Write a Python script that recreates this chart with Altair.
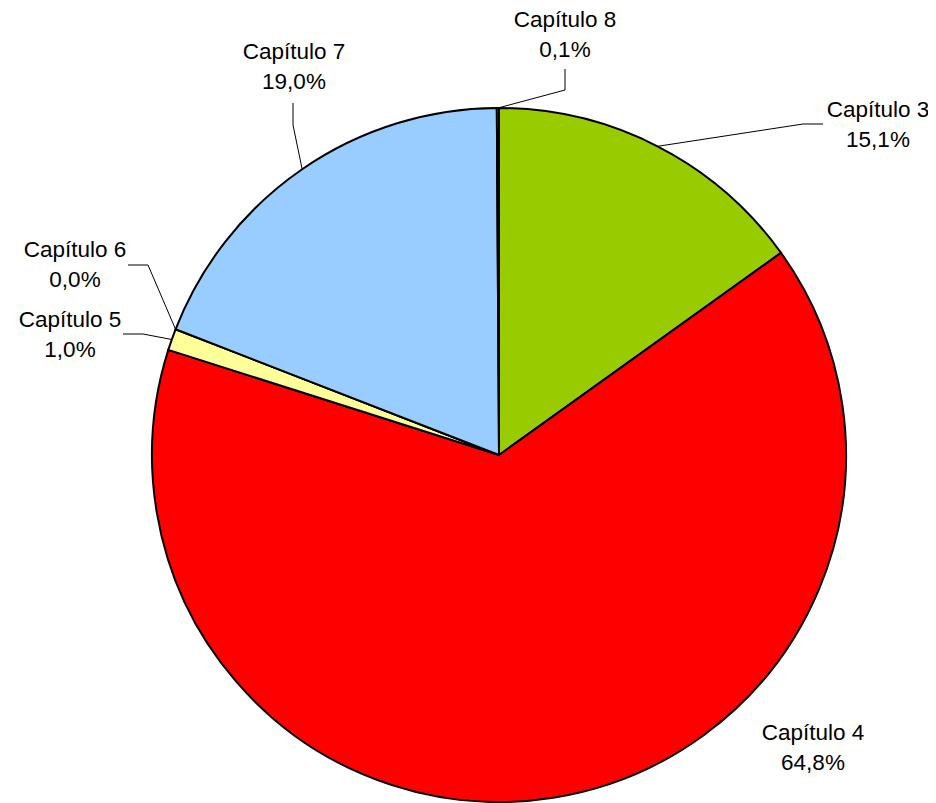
import altair as alt
import pandas as pd
import numpy as np

# ---- data ----
categories = ["Capítulo 3", "Capítulo 4", "Capítulo 5", "Capítulo 6", "Capítulo 7", "Capítulo 8"]
values = [15.1, 64.8, 1.0, 0.0, 19.0, 0.1]
pct_labels = ["15,1%", "64,8%", "1,0%", "0,0%", "19,0%", "0,1%"]
colors = ["#99CC00", "#FF0000", "#FFFF99", "#99CCFF", "#99CCFF", "#99CCFF"]

# ---- layout ----
W, H = 920, 795
CX, CY, R = 491, 447, 347
FONT = "Liberation Sans"
FS = 22.5

# label centres (first line), in chart px
label_pos = {
    "Capítulo 3": (870, 102),
    "Capítulo 4": (805, 725),
    "Capítulo 5": (62, 312),
    "Capítulo 6": (67, 242),
    "Capítulo 7": (286, 44),
    "Capítulo 8": (557, 12),
}
LINE_GAP = 30
# leader elbows (list of points after the arc point)
elbows = {
    "Capítulo 3": [(795, 116), (815, 116)],
    "Capítulo 5": [(135, 326), (115, 326)],
    "Capítulo 6": [(140, 257), (120, 257)],
    "Capítulo 7": [(285, 117), (285, 95)],
    "Capítulo 8": [(557, 82), (557, 61)],
}

pie_df = pd.DataFrame({"cat": categories, "value": values, "order": list(range(len(categories)))})

# leader lines: start at the slice midpoint on the edge
cum = np.cumsum(values)
total = cum[-1]
rows = []
for i, c in enumerate(categories):
    if c not in elbows:
        continue
    mid = (cum[i] - values[i] / 2) / total * 2 * np.pi
    px, py = CX + R * np.sin(mid), CY - R * np.cos(mid)
    pts = [(px, py)] + elbows[c]
    for k, (x, y) in enumerate(pts):
        rows.append({"cat": c, "k": k, "x": x, "y": y})
lead_df = pd.DataFrame(rows)

trows = []
for c, p in zip(categories, pct_labels):
    x, y = label_pos[c]
    trows.append({"t": c, "x": x, "y": y})
    trows.append({"t": p, "x": x, "y": y + LINE_GAP})
text_df = pd.DataFrame(trows)

xs = alt.Scale(domain=[0, W], range=[0, W])
ys = alt.Scale(domain=[0, H], range=[0, H])

pie = alt.Chart(pie_df).mark_arc(radius=R, stroke="black", strokeWidth=2).encode(
    theta=alt.Theta("value:Q", stack=True),
    order=alt.Order("order:Q"),
    color=alt.Color("cat:N", scale=alt.Scale(domain=categories, range=colors), legend=None),
    x=alt.value(CX),
    y=alt.value(CY),
)

leads = alt.Chart(lead_df).mark_line(color="black", strokeWidth=1).encode(
    x=alt.X("x:Q", scale=xs, axis=None),
    y=alt.Y("y:Q", scale=ys, axis=None),
    detail="cat:N",
    order="k:Q",
)

texts = alt.Chart(text_df).mark_text(
    font=FONT, fontSize=FS, color="black", align="center", baseline="middle"
).encode(
    x=alt.X("x:Q", scale=xs, axis=None),
    y=alt.Y("y:Q", scale=ys, axis=None),
    text="t:N",
)

chart = alt.layer(pie, leads, texts).properties(
    width=W, height=H, autosize="none", padding=0, background="white"
).configure_view(stroke=None)

chart.save("out.html", embed_options={"renderer": "svg", "actions": False})
